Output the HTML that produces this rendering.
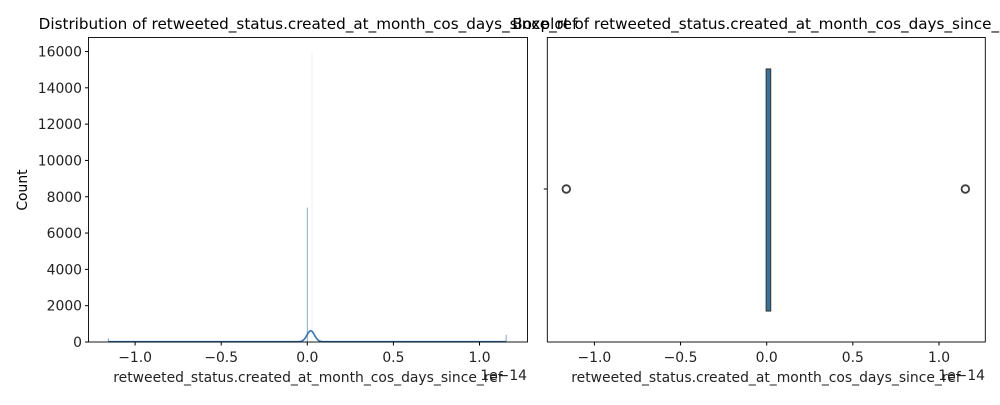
<!DOCTYPE html>
<html><head><meta charset="utf-8"><style>
body{margin:0;background:#fff;font-family:"Liberation Sans","DejaVu Sans",sans-serif}
svg text{font-family:"DejaVu Sans","Liberation Sans",sans-serif}
</style></head><body>
<svg id="c" width="1000" height="400" xmlns="http://www.w3.org/2000/svg"></svg>
<script>
const histX = [-1.155, 0.0, 0.027, 1.155];
const histCounts = [200, 7400, 16000, 400];
const kdeCenter = [0.02];
const kdePeak = [600];
const xTicks = [-1.0, -0.5, 0.0, 0.5, 1.0];
const xTickLabels = ["\u22121.0","\u22120.5","0.0","0.5","1.0"];
const yTicks = [0,2000,4000,6000,8000,10000,12000,14000,16000];
const boxQ = [0.0, 0.02];
const outliers = [-1.163, 1.153];
const NS="http://www.w3.org/2000/svg", svg=document.getElementById('c');
function mk(t,a,p){const e=document.createElementNS(NS,t);for(const k in a)e.setAttribute(k,a[k]);(p||svg).appendChild(e);return e;}
function txt(x,y,s,a,p){const e=mk('text',Object.assign({x:x,y:y,'font-size':13.9,fill:'#000'},a||{}),p);e.textContent=s;return e;}
const L={x0:88.5,x1:527.5,y0:37.5,y1:342};
const lx=v=>307.3+v*172.2, ly=v=>342-v*(290.5/16000);
const g1=mk('g',{});


histX.forEach((v,i)=>{const b=mk('rect',{x:lx(v)-0.5,y:ly(histCounts[i]),width:1,height:342-ly(histCounts[i]),fill:i==2?'#eef3f8':'#7aaad4'},g1);

});
let d='';for(let px=lx(-1.155);px<=lx(1.155);px+=0.5){const v=(px-307.3)/172.2;const y=kdePeak[0]*Math.exp(-0.5*Math.pow((v-kdeCenter[0])/0.022,2))+15;d+=(d?'L':'M')+px.toFixed(1)+','+ly(y).toFixed(1);}
const kl=mk('path',{d:d,fill:'none',stroke:'#3274b5','stroke-width':1.6},g1);


mk('rect',{x:L.x0,y:L.y0,width:L.x1-L.x0,height:L.y1-L.y0,fill:'none',stroke:'#000','stroke-width':0.9},g1);
xTicks.forEach((v,i)=>{mk('line',{x1:lx(v),x2:lx(v),y1:342,y2:345.5,stroke:'#000'},g1);txt(lx(v),362,xTickLabels[i],{'text-anchor':'middle',fill:'#222'},g1);});
yTicks.forEach(v=>{mk('line',{x1:85,x2:88.5,y1:ly(v),y2:ly(v),stroke:'#000'},g1);txt(82,ly(v)+5,String(v),{'text-anchor':'end',fill:'#222'},g1);});
txt(308,29,'Distribution of retweeted_status.created_at_month_cos_days_since_ref',{'font-size':15.2,'text-anchor':'middle'},g1);
txt(308,382,'retweeted_status.created_at_month_cos_days_since_ref',{fill:'#222','text-anchor':'middle'},g1);
txt(527,380,'1e\u221214',{fill:'#222','text-anchor':'end'},g1);
txt(27,190,'Count',{'text-anchor':'middle',transform:'rotate(-90 27 190)'},g1);
const rx=v=>766.7+v*172.3;
const g2=mk('g',{});


const bx=mk('rect',{x:rx(boxQ[0])-0.5,y:69,width:rx(boxQ[1])-rx(boxQ[0])+1,height:242,fill:'#3274a1',stroke:'#3f3f3f','stroke-width':1.2},g2);


outliers.forEach(v=>{const c=mk('circle',{cx:rx(v),cy:189,r:3.8,fill:'none',stroke:'#3f3f3f','stroke-width':1.8},g2);

});
mk('rect',{x:547.3,y:37.5,width:438,height:304.5,fill:'none',stroke:'#000','stroke-width':0.9},g2);
xTicks.forEach((v,i)=>{mk('line',{x1:rx(v),x2:rx(v),y1:342,y2:345.5,stroke:'#000'},g2);txt(rx(v),362,xTickLabels[i],{'text-anchor':'middle',fill:'#222'},g2);});
mk('line',{x1:543.8,x2:547.3,y1:189,y2:189,stroke:'#000'},g2);
txt(766,29,'Boxplot of retweeted_status.created_at_month_cos_days_since_ref',{'font-size':15.2,'text-anchor':'middle'},g2);
txt(766,382,'retweeted_status.created_at_month_cos_days_since_ref',{fill:'#222','text-anchor':'middle'},g2);
txt(985,380,'1e\u221214',{fill:'#222','text-anchor':'end'},g2);
</script>
</body></html>
